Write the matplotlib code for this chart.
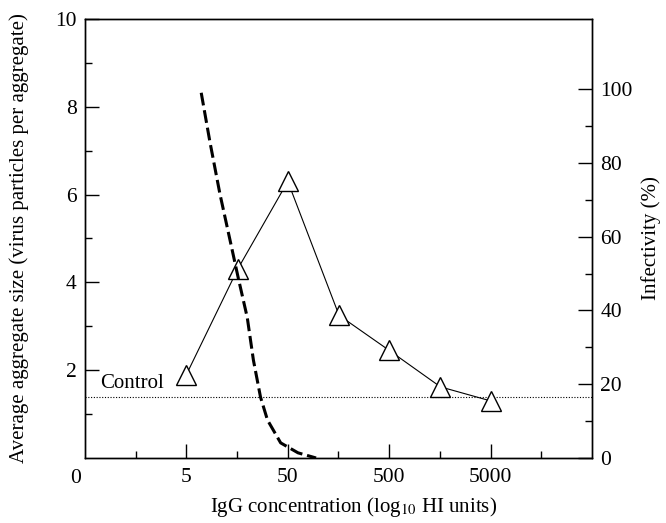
import matplotlib
matplotlib.use("Agg")
import matplotlib.pyplot as plt
from matplotlib.ticker import FixedLocator, NullFormatter

plt.rcParams['font.family'] = ['Liberation Serif', 'DejaVu Serif']
plt.rcParams['mathtext.fontset'] = 'stix'

# Data
conc = [5, 16, 50, 160, 500, 1600, 5000]
agg_size = [1.9, 4.3, 6.3, 3.25, 2.45, 1.62, 1.3]
infect_conc = [7.0, 8.5, 10.7, 13.5, 16.2, 19.9, 22.9, 26.9, 31.5, 42.5, 63, 95]
infectivity = [99, 85.9, 71.6, 58.9, 48.9, 38.1, 26.5, 16.5, 10.3, 4.1, 1.4, 0]
control_level = 1.39
x_major = [5, 50, 500, 5000]
x_major_labels = ["5", "50", "500", "5000"]
x_minor = [1.58, 15.8, 158, 1580, 15800]
left_ticks = [2, 4, 6, 8, 10]
left_minor = [1, 3, 5, 7, 9]
right_ticks = [0, 20, 40, 60, 80, 100]
right_minor = [10, 30, 50, 70, 90]

fig = plt.figure(figsize=(6.66, 5.23), dpi=100)
ax = fig.add_axes([0.1276, 0.1243, 0.7614, 0.8394])
ax.set_xscale('log')
ax.set_xlim(0.5, 50000)
ax.set_ylim(0, 10)

ax.plot(conc, agg_size, color='black', lw=0.8, marker='^', markersize=14,
        markerfacecolor='white', markeredgecolor='black', markeredgewidth=1.0, zorder=3)
ax.axhline(control_level, color='black', lw=0.8, ls=(0, (1, 1.5)))
ax.text(0.7, control_level + 0.1, "Control", fontsize=15, ha='left', va='bottom')

ax.xaxis.set_major_locator(FixedLocator(x_major))
ax.set_xticklabels(x_major_labels)
ax.xaxis.set_minor_locator(FixedLocator(x_minor))
ax.xaxis.set_minor_formatter(NullFormatter())
ax.yaxis.set_major_locator(FixedLocator(left_ticks))
ax.yaxis.set_minor_locator(FixedLocator(left_minor))

ax.tick_params(axis='both', which='major', direction='in', length=10, width=1.0, labelsize=15.5)
ax.tick_params(axis='both', which='minor', direction='in', length=5, width=1.0)
ax.tick_params(axis='x', which='major', pad=7)
ax.tick_params(axis='y', which='major', pad=6)
ax.tick_params(top=False, which='both')

ax.annotate("0", xy=(0, 0), xycoords='axes fraction', xytext=(-7, -8),
            textcoords='offset points', ha='center', va='top', fontsize=15.5)

ax.set_xlabel(r"IgG concentration (log$_{10}$ HI units)", fontsize=15)
ax.xaxis.set_label_coords(0.53, -0.085)
ax.set_ylabel("Average aggregate size (virus particles per aggregate)", fontsize=15)
ax.yaxis.set_label_coords(-0.11, 0.5)

ax2 = ax.twinx()
ax2.set_ylim(0, 119)
line, = ax2.plot(infect_conc, infectivity, color='black', lw=2.2, ls='--')
line.set_dashes([4.2, 1.6])
ax2.yaxis.set_major_locator(FixedLocator(right_ticks))
ax2.yaxis.set_minor_locator(FixedLocator(right_minor))
ax2.tick_params(axis='y', which='major', direction='in', length=10, width=1.0, labelsize=15.5, pad=6)
ax2.tick_params(axis='y', which='minor', direction='in', length=5, width=1.0)
ax2.set_ylabel("Infectivity (%)", fontsize=15, labelpad=6)

for a in (ax, ax2):
    for s in a.spines.values():
        s.set_linewidth(1.0)

fig.savefig("out.png", dpi=100)
